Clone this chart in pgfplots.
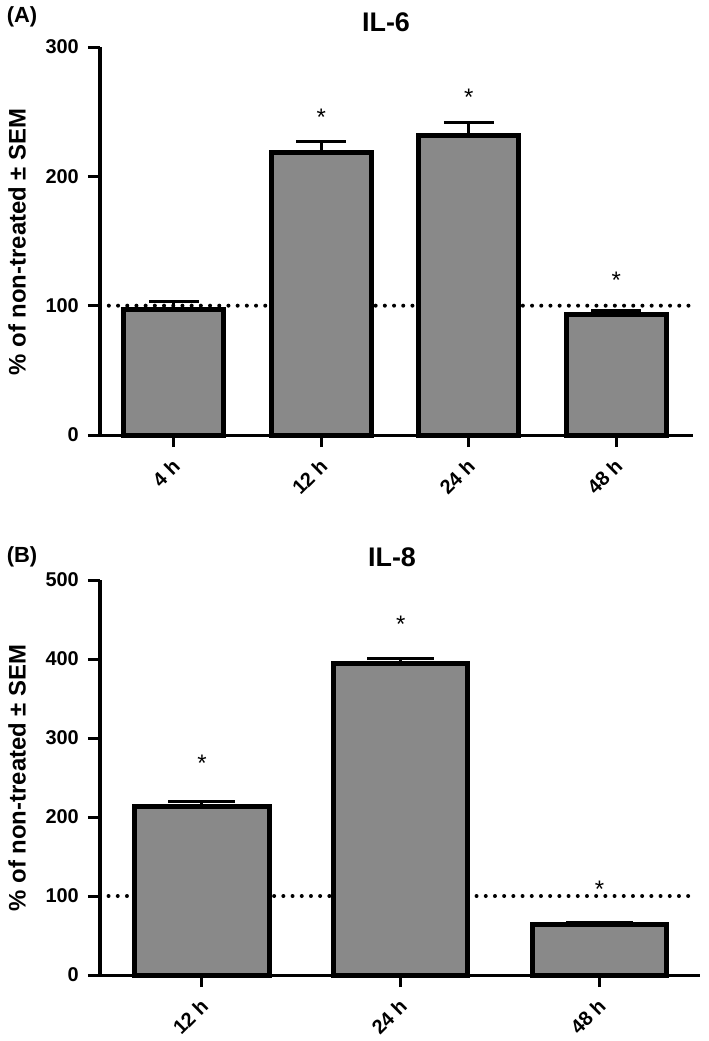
\documentclass[border=0pt]{standalone}
\usepackage{pgfplots}
\pgfplotsset{compat=1.18}
\usepackage{fontspec}
\setmainfont{Liberation Sans}
\definecolor{barg}{RGB}{137,137,137}
\newcommand\fsz[1]{\fontsize{#1}{#1}\selectfont\bfseries}
\pgfplotsset{
  panel/.style={
    scale only axis,
    axis lines*=left,
    axis line style={line width=3bp, black},
    every tick/.style={line width=3bp, black},
    tick align=outside,
    major tick length=12bp,
    ymin=0,
    tick label style={font=\fsz{20}},
    /pgf/number format/assume math mode=true,
    xticklabel style={xshift=4bp, yshift=-14bp, rotate=45, anchor=east, inner sep=2bp},
    yticklabel style={xshift=-6bp, inner sep=3bp},
    clip=false,
  },
  bars/.style={
    ybar, bar shift=0pt, fill=barg, draw=black, line width=5bp,
    error bars/.cd, y dir=plus, y explicit,
    error bar style={line width=3bp, black},
    error mark options={rotate=90, line width=3bp, black, mark size=#1},
  },
  dots/.style={black, line width=4bp, line cap=round, dash pattern=on 0bp off 9.2bp, forget plot},
}
\begin{document}
\begin{tikzpicture}
\useasboundingbox (0bp,0bp) rectangle (709bp,-1041bp);
% Panel A
\node[font=\fsz{22}] at (22bp,-17bp) {(A)};
\node[font=\fsz{27}] at (386bp,-22bp) {IL-6};
\node[font=\fsz{24}, rotate=90] at (17bp,-242bp) {\% of non-treated ± SEM};
\begin{axis}[panel,
  at={(100bp,-435bp)}, anchor=south west,
  width=593bp, height=388bp,
  xmin=-0.5, xmax=3.52, ymax=300,
  ytick={0,100,200,300},
  xtick={0,1,2,3},
  xticklabels={4 h,12 h,24 h,48 h},
  bar width=0.68,
]
\addplot[dots] coordinates {(-0.44,100) (3.5,100)};
\addplot[bars=25bp] coordinates {
  (0,97) +- (0,6)
  (1,218.4) +- (0,8.8)
  (2,231.3) +- (0,10.6)
  (3,93.4) +- (0,3.2)
};
\node[font=\fontsize{24}{24}\selectfont] at (axis cs:1,246) {*};
\node[font=\fontsize{24}{24}\selectfont] at (axis cs:2,261) {*};
\node[font=\fontsize{24}{24}\selectfont] at (axis cs:3,120) {*};
\end{axis}
% Panel B
\node[font=\fsz{22}] at (22bp,-557bp) {(B)};
\node[font=\fsz{27}] at (392bp,-557bp) {IL-8};
\node[font=\fsz{24}, rotate=90] at (17bp,-778bp) {\% of non-treated ± SEM};
\begin{axis}[panel,
  at={(100bp,-975bp)}, anchor=south west,
  width=600bp, height=395bp,
  xmin=-0.513, xmax=2.505, ymax=500,
  ytick={0,100,200,300,400,500},
  xtick={0,1,2},
  xticklabels={12 h,24 h,48 h},
  bar width=0.675,
]
\addplot[dots] coordinates {(-0.47,100) (2.49,100)};
\addplot[bars=33.5bp] coordinates {
  (0,213.3) +- (0,6)
  (1,394.3) +- (0,6.7)
  (2,63.5) +- (0,3.5)
};
\node[font=\fontsize{24}{24}\selectfont] at (axis cs:0,268) {*};
\node[font=\fontsize{24}{24}\selectfont] at (axis cs:1,444) {*};
\node[font=\fontsize{24}{24}\selectfont] at (axis cs:2,109) {*};
\end{axis}
\end{tikzpicture}
\end{document}
